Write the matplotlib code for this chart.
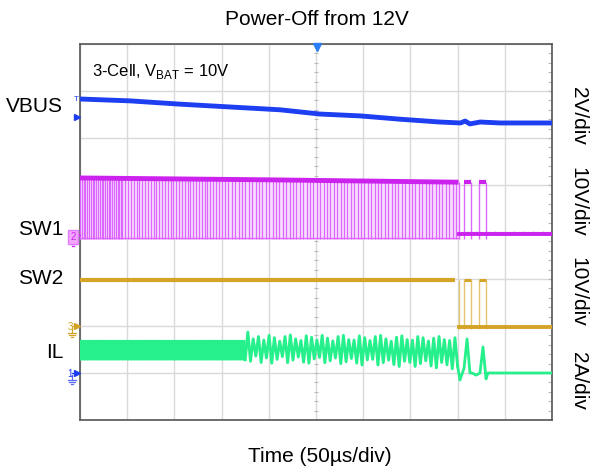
import numpy as np
import matplotlib.pyplot as plt
from matplotlib.lines import Line2D

plt.rcParams['font.family'] = ['Liberation Sans', 'DejaVu Sans']
plt.rcParams['mathtext.fontset'] = 'custom'
plt.rcParams['mathtext.rm'] = 'Liberation Sans'

# ---------------------------
# scope settings (screen divisions)
# ---------------------------
time_per_div_us = 50
n_xdiv, n_ydiv = 10, 8
vbus_gnd_div, vbus_scale = 0.83, 2.0    # V/div
sw1_gnd_div, sw1_scale = 3.96, 10.0     # V/div
sw2_gnd_div, sw2_scale = 1.98, 10.0     # V/div
il_zero_div, il_scale = 1.00, 2.0       # A/div

# VBUS (V)
vbus_t = [0, 53, 106, 159, 212, 254, 297, 339, 381, 403, 408, 413, 424, 445, 500]
vbus_v = [12.0, 11.92, 11.78, 11.66, 11.54, 11.36, 11.28, 11.14, 11.02, 10.98,
          11.06, 10.94, 11.02, 10.98, 10.98]

# SW1 (V): switching node, high level follows VBUS
sw1_high_t = [0, 200, 401]
sw1_high_v = [11.9, 11.5, 11.0]
sw1_low_v = -1.1
sw1_stop_us = 401
sw1_seg_start = [0, 45, 150]
sw1_seg_end = [45, 150, 401]
sw1_period_us = [1.9, 3.0, 3.6]
burst_on = [406.8, 422.7]
burst_off = [414.0, 430.0]
burst_high_v = 11.0

# SW2 (V)
sw2_high_v = 10.0
sw2_stop_us = 401

# IL (A)
il_seg1 = (0, 175)
il_seg1_hi, il_seg1_lo, il_seg1_period = 1.38, 0.56, 1.6
il_seg2 = (175, 400)
il_seg2_peaks = [1.74, 1.45, 1.55, 1.40, 1.60, 1.50, 1.35, 1.55, 1.62, 1.45,
                 1.38, 1.58, 1.52, 1.40, 1.60, 1.48, 1.36, 1.55, 1.60, 1.42,
                 1.40, 1.58, 1.50, 1.38, 1.55, 1.60, 1.45, 1.35, 1.52, 1.58,
                 1.42, 1.40, 1.55, 1.50, 1.36, 1.48, 1.55, 1.42, 1.38, 1.50]
il_seg2_troughs = [0.50, 0.72, 0.45, 0.64, 0.42, 0.58, 0.70, 0.44, 0.55, 0.68,
                   0.46, 0.42, 0.60, 0.66, 0.44, 0.52, 0.64, 0.40, 0.48, 0.62,
                   0.42, 0.34, 0.56, 0.58, 0.34, 0.44, 0.55, 0.36, 0.28, 0.50,
                   0.45, 0.28, 0.40, 0.52, 0.30, 0.22, 0.45, 0.35, 0.18, 0.30]
il_tail_t = [400.4, 402.5, 406.8, 410.0, 413.1, 415.3, 419.5, 423.7, 426.9, 430.1, 432.2, 500]
il_tail_a = [0.20, -0.30, 0.20, 1.45, 0.0, 0.0, -0.09, 0.0, 1.11, -0.25, 0.0, 0.0]

blue = '#1e3ef2'
magenta = '#cc22ee'
magenta_light = '#dd66ff'
gold = '#d4a426'
green = '#26f08c'

fig = plt.figure(figsize=(5.92, 4.72), dpi=100)
ax = fig.add_axes([80/592, 52/472, 472/592, 376/472])
xmax = n_xdiv * time_per_div_us
ax.set_xlim(0, xmax)
ax.set_ylim(0, n_ydiv)
ax.set_xticks(np.arange(0, xmax + 1, time_per_div_us))
ax.set_yticks(np.arange(0, n_ydiv + 1))
ax.tick_params(length=0, labelbottom=False, labelleft=False)
ax.grid(color='#d9d9d9', lw=1)
ax.set_axisbelow(True)
for s in ax.spines.values():
    s.set_color('#555555')
    s.set_linewidth(1.2)

# small division ticks on the centre lines and right edge
minor_y = np.arange(0, n_ydiv, 0.2)
minor_x = np.arange(0, xmax, 10)
ax.hlines(minor_y, 248, 252, color='#bbbbbb', lw=0.8, zorder=1)
ax.hlines(minor_y, 496, 500, color='#bbbbbb', lw=0.8, zorder=1)
ax.vlines(minor_x, 3.97, 4.03, color='#bbbbbb', lw=0.8, zorder=1)

# VBUS
ax.plot(vbus_t, vbus_gnd_div + np.array(vbus_v) / vbus_scale, color=blue, lw=3.5,
        solid_capstyle='butt', zorder=5)

# SW1
hi_t = np.array(sw1_high_t)
hi_div = sw1_gnd_div + np.array(sw1_high_v) / sw1_scale
lo_div = sw1_gnd_div + sw1_low_v / sw1_scale
ax.fill_between(hi_t, lo_div, hi_div, color='#f8defe', lw=0, zorder=2)
pulse_t = np.concatenate([np.arange(a, b, p) for a, b, p in
                          zip(sw1_seg_start, sw1_seg_end, sw1_period_us)])
ax.vlines(pulse_t, lo_div, np.interp(pulse_t, hi_t, hi_div), color=magenta_light,
          lw=0.9, zorder=3)
ax.plot([0, sw1_stop_us], [lo_div + 0.03, lo_div + 0.03], color=magenta_light, lw=1, zorder=3)
ax.plot(hi_t, hi_div, color=magenta, lw=3.5, solid_capstyle='butt', zorder=4)
sw1_burst = sw1_gnd_div + burst_high_v / sw1_scale
ax.vlines([sw1_stop_us] + burst_on + burst_off, lo_div, sw1_burst, color=magenta_light, lw=1, zorder=3)
ax.hlines([sw1_burst] * len(burst_on), burst_on, burst_off, color=magenta, lw=3, zorder=4)
ax.plot([sw1_stop_us, xmax], [sw1_gnd_div, sw1_gnd_div], color=magenta, lw=2.8, zorder=4)

# SW2
sw2_hi = sw2_gnd_div + sw2_high_v / sw2_scale
ax.plot([0, sw2_stop_us - 4], [sw2_hi, sw2_hi], color=gold, lw=3, solid_capstyle='butt', zorder=4)
ax.vlines([sw2_stop_us] + burst_on + burst_off, sw2_gnd_div - 0.04, sw2_hi, color='#e6c470',
          lw=1, zorder=3)
ax.hlines([sw2_hi] * len(burst_on), burst_on, burst_off, color=gold, lw=2.2, zorder=4)
ax.plot([sw2_stop_us, xmax], [sw2_gnd_div, sw2_gnd_div], color=gold, lw=2.8, zorder=4)

# IL
n1 = int((il_seg1[1] - il_seg1[0]) / il_seg1_period)
t1 = np.linspace(il_seg1[0], il_seg1[1], 2 * n1 + 1)
a1 = np.where(np.arange(t1.size) % 2 == 0, il_seg1_lo, il_seg1_hi)
ax.fill_between([il_seg1[0], il_seg1[1]], il_zero_div + il_seg1_lo / il_scale,
                il_zero_div + il_seg1_hi / il_scale, color=green, lw=0, zorder=3)
ax.plot(t1, il_zero_div + a1 / il_scale, color=green, lw=1.2, zorder=4)
n2 = len(il_seg2_peaks)
t2 = np.linspace(il_seg2[0], il_seg2[1], 2 * n2 + 1)
a2 = np.empty(2 * n2 + 1)
a2[0] = il_seg1_lo
a2[1::2] = il_seg2_peaks
a2[2::2] = il_seg2_troughs
ax.plot(t2, il_zero_div + a2 / il_scale, color=green, lw=2.1, zorder=4)
ax.plot([il_seg2[1]] + il_tail_t, il_zero_div + np.array([a2[-1]] + il_tail_a) / il_scale,
        color=green, lw=2.0, zorder=4)

# trigger position marker
ax.plot(251, n_ydiv - 0.07, marker='v', ms=6, color='#2a7ef5', clip_on=False, zorder=6)


# channel markers on the left edge
def fx(px):
    return px / 592


def fy(py):
    return 1 - py / 472


def ground(px, py, color):
    for i, w in enumerate([4, 2.6, 1.2]):
        fig.add_artist(Line2D([fx(px - w), fx(px + w)], [fy(py + 2 * i), fy(py + 2 * i)],
                              color=color, lw=0.9))
    fig.add_artist(Line2D([fx(px), fx(px)], [fy(py - 5), fy(py)], color=color, lw=0.9))


def arrow(px, py, color):
    fig.add_artist(Line2D([fx(px)], [fy(py)], marker='>', ms=4, color=color, lw=0))


fig.text(fx(76), fy(101), 'T', color=blue, fontsize=6, ha='center', va='baseline')
arrow(77, 117, blue)

fig.text(fx(73), fy(237), '2', color=magenta, fontsize=7, ha='center', va='center',
         bbox=dict(boxstyle='square,pad=0.25', fc='#f2a6ff', ec='#e07cff'))
arrow(77, 235, magenta)
ground(73, 242, magenta)

fig.text(fx(70), fy(330), '3', color=gold, fontsize=7, ha='center', va='baseline')
fig.add_artist(Line2D([fx(72), fx(76)], [fy(326), fy(326)], color=gold, lw=0.9))
arrow(77, 326, gold)
ground(72, 333, gold)

fig.text(fx(70.5), fy(377), '1', color=blue, fontsize=7, ha='center', va='baseline')
fig.add_artist(Line2D([fx(72), fx(76)], [fy(373), fy(373)], color=blue, lw=0.9))
arrow(77, 373, blue)
ground(72, 380, '#5a6cf5')

# texts
fig.text(fx(317), fy(25), 'Power-Off from 12V', fontsize=15, ha='center', va='baseline')
fig.text(fx(319.5), fy(462), 'Time (50µs/div)', fontsize=15, ha='center', va='baseline')
ax.text(0.026, 0.915, r'3-Cell, V$_{\mathrm{BAT}}$ = 10V', transform=ax.transAxes,
        fontsize=12, ha='left', va='baseline')

for name, ypx in [('VBUS', 111.5), ('SW1', 234.5), ('SW2', 284.5), ('IL', 357.5)]:
    fig.text(fx(63), fy(ypx), name, fontsize=15, ha='right', va='baseline')

for name, ypx in [('2V/div', 116), ('10V/div', 202), ('10V/div', 292), ('2A/div', 381)]:
    fig.text(fx(578), fy(ypx), name, fontsize=15, rotation=-90, ha='center', va='center')

fig.savefig('out.png', dpi=100)
